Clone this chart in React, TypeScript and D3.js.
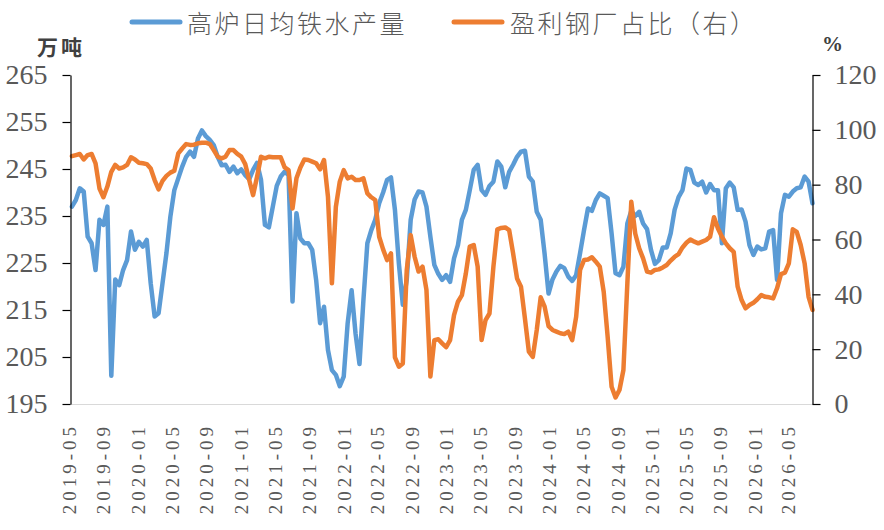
import { useEffect, useRef } from 'react';
import * as d3 from 'd3';

// fortnightly readings, first one on 2019-05-10
const startDate = new Date(2019, 4, 10);
const stepDays = 14;

// 高炉日均铁水产量 (万吨)
const ironOutput = [
  237.0, 238.4, 240.9, 240.2, 230.6, 229.2, 223.5, 234.2, 233.1, 237.0,
  201.0, 221.5, 220.3, 223.5, 225.6, 231.7, 227.8, 229.5, 228.5, 229.9,
  220.7, 213.6, 214.3, 220.7, 227.1, 234.9, 240.5, 243.0, 245.5, 247.6,
  248.7, 247.6, 251.5, 253.2, 252.0, 251.2, 250.1, 247.6, 245.8,
  245.9, 244.4, 245.5, 244.1, 244.9, 243.7, 242.8, 244.8, 246.3, 242.7,
  233.1, 232.6, 237.0, 241.4, 243.4, 244.4, 243.7, 216.8, 235.6, 230.2,
  229.2, 229.2, 227.8, 221.4, 212.2, 215.7, 206.5, 202.2, 201.2, 198.8,
  200.8, 212.2, 219.2, 210.0, 203.5, 217.1, 229.2, 232.0,
  234.2, 237.7, 240.0, 242.7, 243.2, 236.3, 224.9, 216.1, 221.4, 234.2,
  238.5, 240.2, 240.0, 237.0, 230.6, 224.6, 222.7, 221.4, 222.4, 221.0,
  226.0, 228.8, 234.2, 236.3, 240.5, 244.8, 245.9, 240.5, 239.5, 241.4,
  242.3, 246.6, 245.5, 241.1, 244.4, 245.9, 247.6, 248.7,
  248.9, 243.4, 242.3, 235.9, 234.2, 226.9, 218.5, 221.5, 223.2, 224.4,
  223.9, 222.1, 221.2, 222.4, 227.1, 232.0, 236.6, 236.1, 238.4, 239.8,
  239.3, 238.8, 231.3, 222.8, 222.4, 224.2, 233.4, 236.1, 235.0, 235.9,
  233.4, 232.2, 227.8, 224.8, 225.6, 228.3, 228.3, 231.3,
  236.3, 239.0, 240.5, 245.1, 244.8, 242.1, 241.6, 242.3, 240.0, 241.8,
  240.5, 240.5, 229.2, 240.9, 242.1, 241.1, 236.3, 236.4, 233.8, 228.8,
  226.7, 228.5, 227.9, 228.1, 231.7, 232.0, 221.4, 235.6, 239.5, 239.1,
  240.2, 240.9, 241.1, 243.4, 242.3, 237.7,
];

// 盈利钢厂占比 (%)
const profitShare = [
  90.4, 90.8, 91.2, 89.2, 90.8, 91.2, 87.8, 78.6, 75.4, 79.3,
  84.7, 87.2, 85.9, 86.3, 87.2, 90.0, 89.2, 88.0, 87.8, 87.5,
  85.9, 81.7, 78.3, 81.4, 83.2, 84.4, 85.1, 91.4, 93.2, 94.8,
  94.5, 94.6, 95.1, 95.3, 95.3, 94.8, 92.6, 90.2, 89.6,
  90.2, 92.6, 92.6, 91.2, 90.2, 87.5, 81.7, 76.2, 82.9, 90.2,
  89.6, 90.2, 90.0, 90.0, 90.0, 86.3, 85.3, 71.3, 82.3, 86.3,
  89.2, 89.0, 88.4, 87.8, 85.6, 89.0, 75.6, 44.0, 71.9, 81.1,
  85.3, 82.3, 82.9, 81.7, 81.7, 82.3, 76.8, 75.4,
  74.4, 61.0, 56.4, 52.5, 54.9, 17.0, 13.6, 14.8, 48.9, 61.6,
  53.7, 48.3, 50.1, 41.6, 10.0, 23.3, 23.6, 22.1, 20.7, 23.3,
  32.4, 37.3, 39.7, 47.6, 57.4, 58.0, 50.1, 23.3, 30.6, 33.0,
  50.1, 63.7, 64.2, 64.4, 63.4, 54.9, 45.8, 42.8,
  31.2, 19.1, 17.2, 27.0, 38.9, 35.5, 28.4, 27.0, 26.4, 25.8,
  25.5, 26.4, 23.3, 31.8, 48.9, 52.5, 52.7, 53.5, 51.9, 50.1,
  40.9, 24.5, 6.3, 2.4, 5.1, 12.4, 44.0, 73.8, 62.2, 56.8,
  53.1, 48.3, 47.9, 48.9, 49.1, 49.8, 50.7, 52.3,
  53.7, 54.7, 57.1, 58.8, 60.0, 59.2, 58.6, 59.2, 59.8, 61.0,
  68.1, 64.0, 61.0, 58.6, 56.8, 55.5, 42.8, 37.9, 34.9, 36.1,
  36.9, 38.2, 39.7, 39.1, 38.9, 38.5, 42.2, 47.4, 47.9, 51.3,
  63.7, 62.8, 58.0, 51.3, 39.1, 34.3,
];

const monthLabels = [
  '2019-05', '2019-09', '2020-01', '2020-05', '2020-09', '2021-01', '2021-05', '2021-09',
  '2022-01', '2022-05', '2022-09', '2023-01', '2023-05', '2023-09', '2024-01', '2024-05',
  '2024-09', '2025-01', '2025-05', '2025-09', '2026-01', '2026-05',
];

const leftTicks = [195, 205, 215, 225, 235, 245, 255, 265];
const rightTicks = [0, 20, 40, 60, 80, 100, 120];

const seriesNames = ['高炉日均铁水产量', '盈利钢厂占比（右）'];
const colors = ['#5B9BD5', '#ED7D31'];

const serif = '"Liberation Serif", "DejaVu Serif", serif';
const cjk = '"Noto Sans CJK SC", "Noto Sans", sans-serif';

export default function App() {
  const svgRef = useRef<SVGSVGElement | null>(null);

  useEffect(() => {
    if (!svgRef.current) return;
    const svg = d3.select(svgRef.current);
    svg.selectAll('*').remove();

    const left = 70.5, right = 812.5, top = 75, bottom = 404;

    const dates = ironOutput.map((_, i) => d3.timeDay.offset(startDate, i * stepDays));
    const x = d3
      .scaleTime()
      .domain([d3.timeDay.offset(startDate, -5), dates[dates.length - 1]])
      .range([left, right]);
    const yLeft = d3.scaleLinear().domain([195, 265]).range([bottom, top]);
    const yRight = d3.scaleLinear().domain([0, 120]).range([bottom, top]);

    // bottom baseline
    svg.append('line')
      .attr('x1', left).attr('x2', right)
      .attr('y1', bottom + 0.5).attr('y2', bottom + 0.5)
      .attr('stroke', '#d9d9d9').attr('stroke-width', 1.2);

    // lines
    const lineLeft = d3.line<number>()
      .x((_, i) => x(dates[i]))
      .y(d => yLeft(d));
    const lineRight = d3.line<number>()
      .x((_, i) => x(dates[i]))
      .y(d => yRight(d));

    svg.append('path')
      .datum(ironOutput)
      .attr('d', lineLeft)
      .attr('fill', 'none')
      .attr('stroke', colors[0])
      .attr('stroke-width', 4.5)
      .attr('stroke-linejoin', 'round')
      .attr('stroke-linecap', 'round');

    svg.append('path')
      .datum(profitShare)
      .attr('d', lineRight)
      .attr('fill', 'none')
      .attr('stroke', colors[1])
      .attr('stroke-width', 4.5)
      .attr('stroke-linejoin', 'round')
      .attr('stroke-linecap', 'round');

    // axes
    const gl = svg.append('g')
      .attr('transform', `translate(${left},0)`)
      .call(d3.axisLeft(yLeft).tickValues(leftTicks).tickSizeInner(8).tickSizeOuter(0).tickPadding(15));
    const gr = svg.append('g')
      .attr('transform', `translate(${right},0)`)
      .call(d3.axisRight(yRight).tickValues(rightTicks).tickSizeInner(8).tickSizeOuter(0).tickPadding(14));

    [gl, gr].forEach(g => {
      g.select('.domain').attr('stroke', '#000').attr('stroke-width', 1.2);
      g.selectAll('.tick line').attr('stroke', '#000').attr('stroke-width', 1.2);
      g.selectAll('.tick text')
        .attr('font-family', serif)
        .attr('font-size', 28)
        .attr('fill', '#595959');
    });

    // month labels
    svg.append('g')
      .selectAll('text')
      .data(monthLabels)
      .join('text')
      .attr('transform', d => {
        const [yy, mm] = d.split('-').map(Number);
        return `translate(${x(new Date(yy, mm - 1, 1))},423) rotate(-90)`;
      })
      .attr('text-anchor', 'end')
      .attr('dominant-baseline', 'central')
      .attr('font-family', serif)
      .attr('font-size', 19)
      .attr('letter-spacing', 4)
      .attr('fill', '#595959')
      .text(d => d);

    // unit labels
    svg.append('text')
      .attr('x', 37).attr('y', 46)
      .attr('dominant-baseline', 'central')
      .attr('font-family', cjk)
      .attr('font-weight', 'bold')
      .attr('font-size', 21)
      .attr('letter-spacing', 3)
      .attr('fill', '#404040')
      .text('万吨');
    svg.append('text')
      .attr('x', 822).attr('y', 44)
      .attr('dominant-baseline', 'central')
      .attr('font-family', serif)
      .attr('font-weight', 'bold')
      .attr('font-size', 21)
      .attr('fill', '#404040')
      .text('%');

    // legend
    const legendItems = [
      { x1: 132, x2: 180, tx: 187 },
      { x1: 454, x2: 502, tx: 510 },
    ];
    const legend = svg.append('g');
    legendItems.forEach((item, i) => {
      legend.append('line')
        .attr('x1', item.x1).attr('x2', item.x2)
        .attr('y1', 22).attr('y2', 22)
        .attr('stroke', colors[i])
        .attr('stroke-width', 5)
        .attr('stroke-linecap', 'round');
      legend.append('text')
        .attr('x', item.tx).attr('y', 22)
        .attr('dominant-baseline', 'central')
        .attr('font-family', cjk)
        .attr('font-weight', 300)
        .attr('font-size', 25)
        .attr('letter-spacing', 2.5)
        .attr('fill', '#595959')
        .text(seriesNames[i]);
    });
  }, []);

  return (
    <svg
      ref={svgRef}
      width={884}
      height={530}
      style={{ position: 'absolute', left: 0, top: 0, background: '#fff' }}
    />
  );
}
